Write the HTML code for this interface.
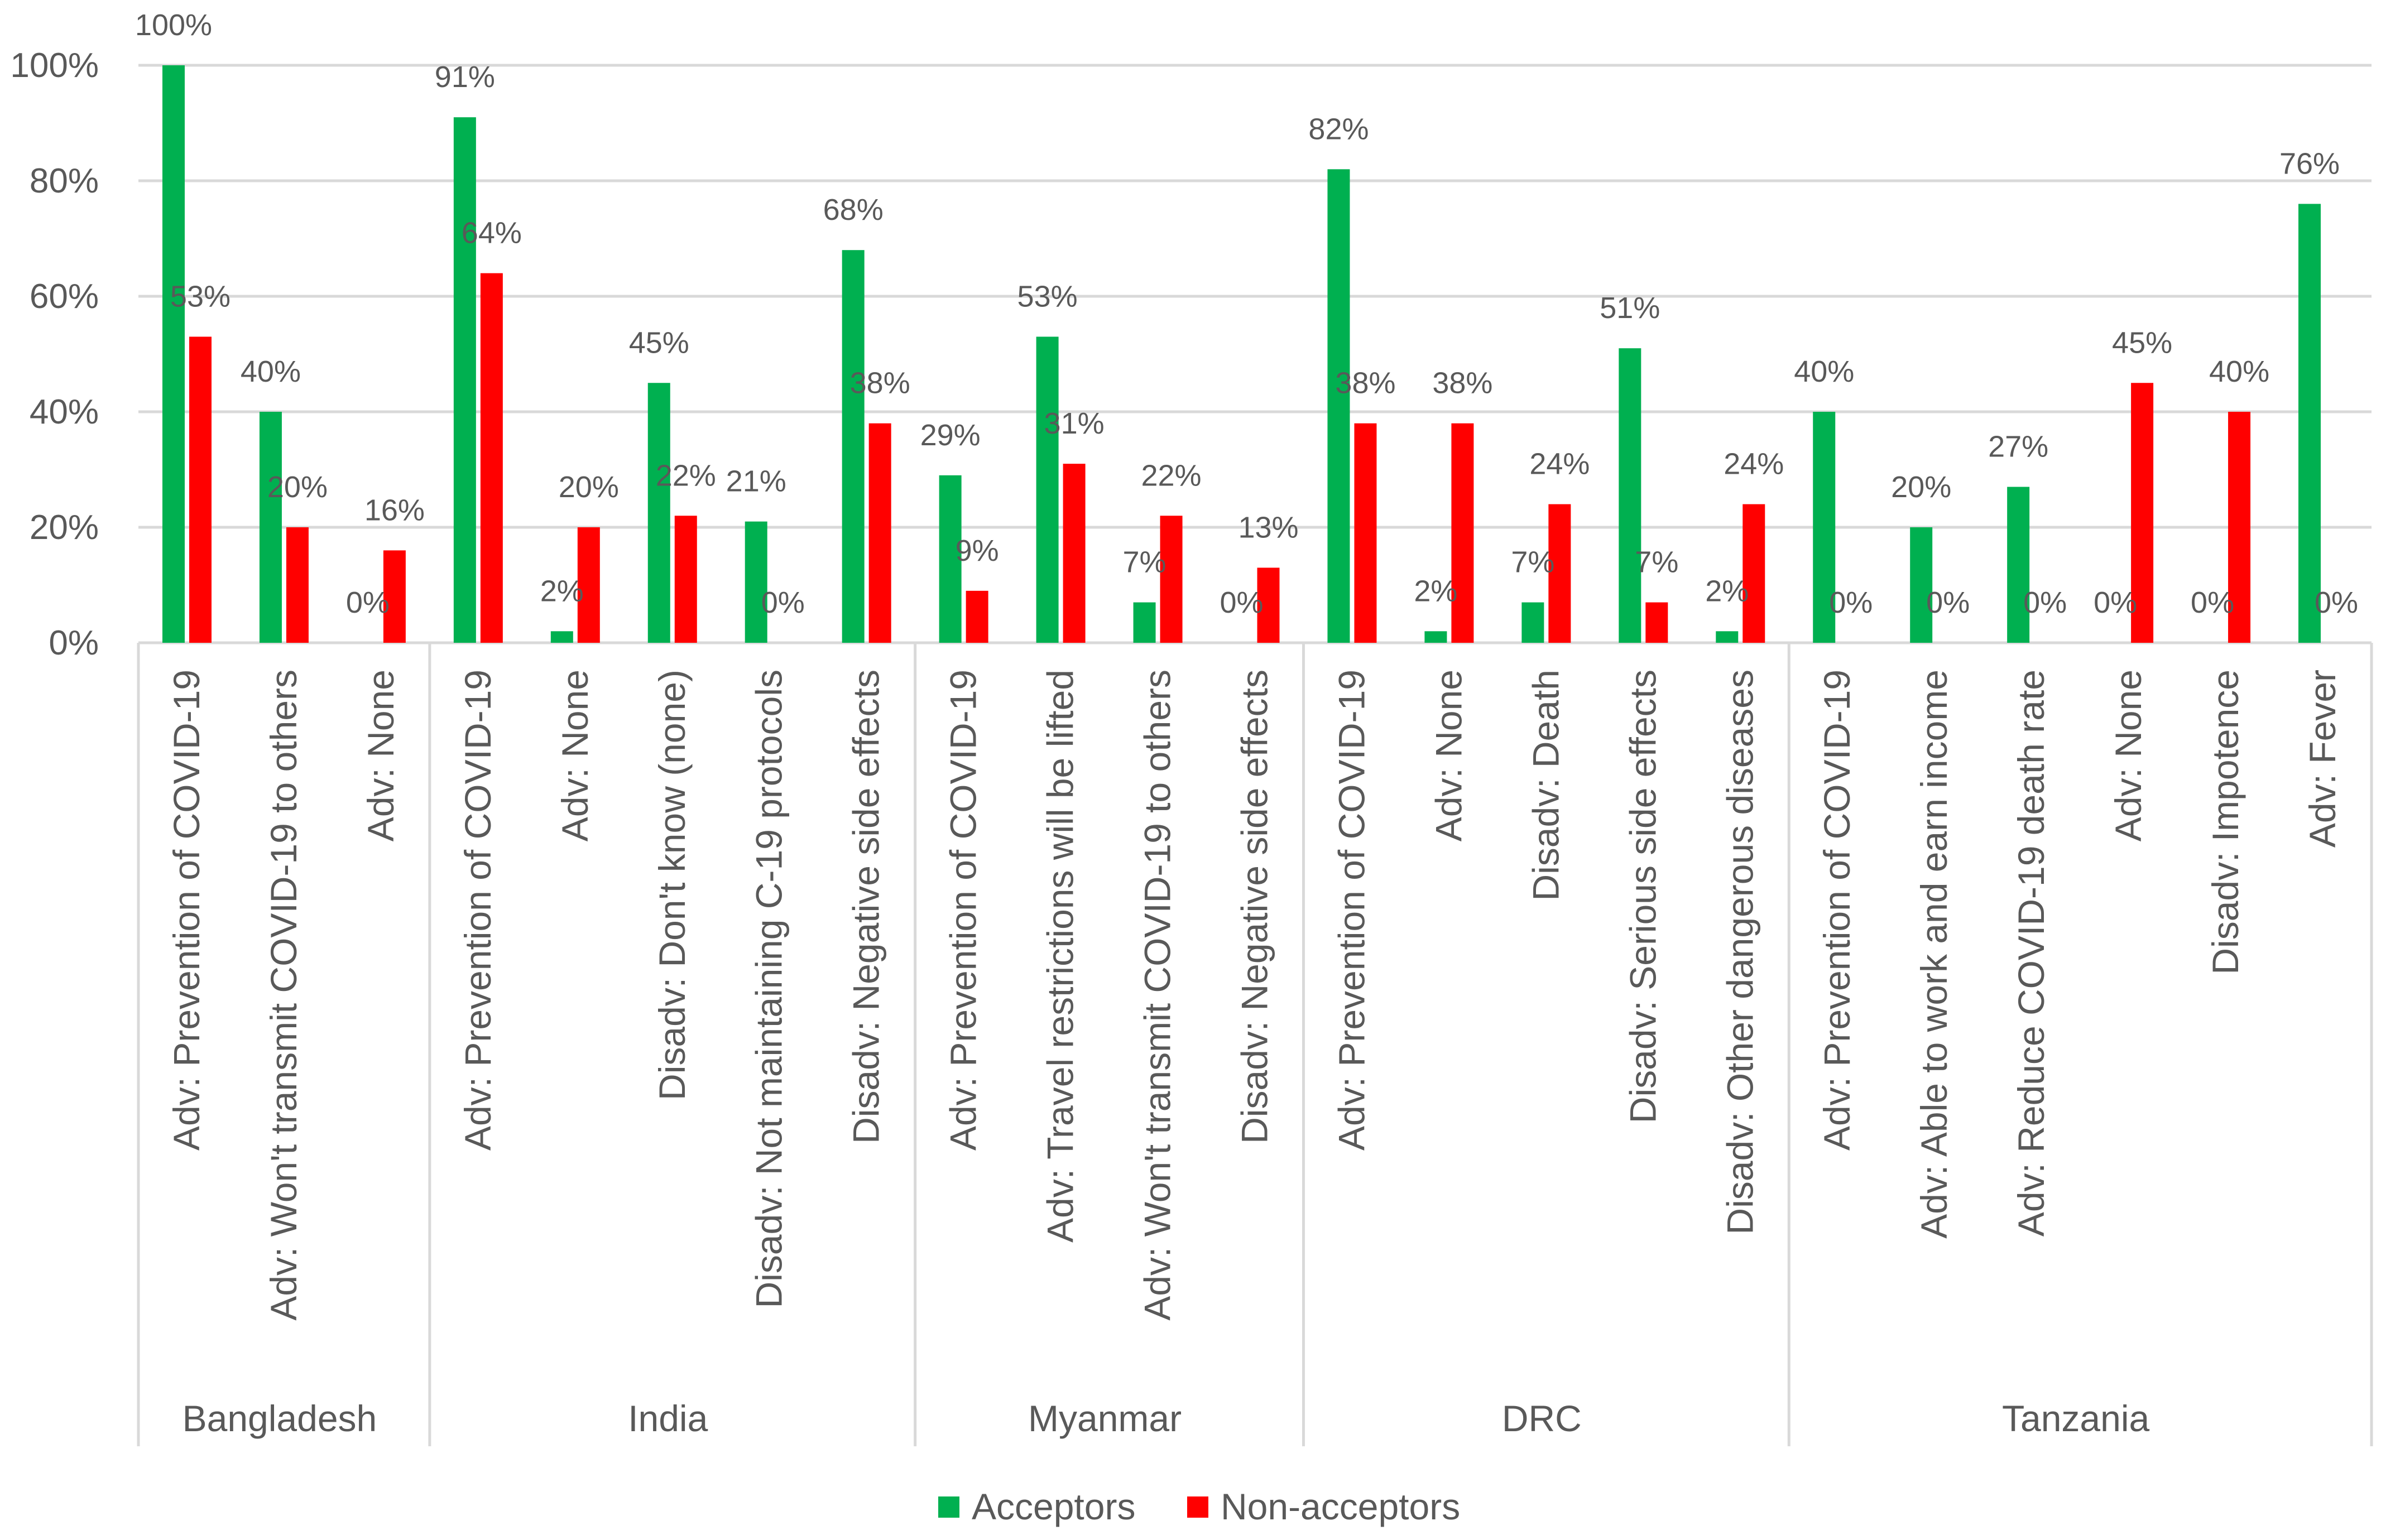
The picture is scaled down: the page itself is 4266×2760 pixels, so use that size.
<!DOCTYPE html>
<html><head><meta charset="utf-8"><style>
html,body{margin:0;padding:0;background:#fff;}
svg{display:block;font-family:"Liberation Sans",sans-serif;}
</style></head><body>
<svg id="chart" width="4266" height="2760" viewBox="0 0 4266 2760" xmlns="http://www.w3.org/2000/svg">
<g id="grid"></g>
<g id="yticks"></g>
<g id="bars"></g>
<g id="labels"></g>
<g id="xcats"></g>
<g id="groups"></g>
<g id="legend">
  <rect x="1681" y="2682" width="38" height="38" fill="#00b050"/>
  <text x="1741" y="2723" font-size="66" fill="#595959">Acceptors</text>
  <rect x="2127" y="2682" width="38" height="38" fill="#ff0000"/>
  <text x="2187" y="2723" font-size="66" fill="#595959">Non-acceptors</text>
</g>
</svg>
<script>
const categories = ["Adv: Prevention of COVID-19","Adv: Won't transmit COVID-19 to others","Adv: None",
"Adv: Prevention of COVID-19","Adv: None","Disadv: Don't know (none)","Disadv: Not maintaining C-19 protocols","Disadv: Negative side effects",
"Adv: Prevention of COVID-19","Adv: Travel restrictions will be lifted","Adv:  Won't transmit COVID-19 to others","Disadv: Negative side effects",
"Adv: Prevention of COVID-19","Adv:  None","Disadv: Death","Disadv:  Serious side effects","Disadv: Other dangerous diseases",
"Adv: Prevention of COVID-19","Adv: Able to work and earn income","Adv: Reduce COVID-19 death rate","Adv:  None","Disadv: Impotence","Adv: Fever"];
const acceptors = [100,40,0, 91,2,45,21,68, 29,53,7,0, 82,2,7,51,2, 40,20,27,0,0,76];
const nonAcceptors = [53,20,16, 64,20,22,0,38, 9,31,22,13, 38,38,24,7,24, 0,0,0,45,40,0];
const groupNames = ["Bangladesh","India","Myanmar","DRC","Tanzania"];
const groupSizes = [3,5,4,5,6];
const yTicks = [0,20,40,60,80,100];

const NS="http://www.w3.org/2000/svg";
const X0=248, X1=4249, Y0=1152, Y100=117;
const cw=(X1-X0)/categories.length;
const y=v=>Y0-(Y0-Y100)*v/100;
const xc=i=>X0+cw*(i+0.5);
function mk(tag,attrs,parent){const e=document.createElementNS(NS,tag);for(const k in attrs)e.setAttribute(k,attrs[k]);parent.appendChild(e);return e;}
const grid=document.getElementById('grid'),yt=document.getElementById('yticks'),bars=document.getElementById('bars'),
labels=document.getElementById('labels'),xcats=document.getElementById('xcats'),groups=document.getElementById('groups');
yTicks.forEach(t=>{
  const l=mk('line',{x1:X0,x2:X1,y1:y(t),y2:y(t),stroke:'#d9d9d9','stroke-width':5},grid);
  
  
  const tx=mk('text',{x:177,y:y(t)+21,'text-anchor':'end','font-size':62,fill:'#595959'},yt);
  tx.textContent=t+'%';
  
  
});
const BW=40;
categories.forEach((c,i)=>{
  const gx=xc(i)-24, rx=xc(i)+24;
  const g=mk('rect',{x:gx-BW/2,y:y(acceptors[i]),width:BW,height:Y0-y(acceptors[i]),fill:'#00b050'},bars);
  
  
  const r=mk('rect',{x:rx-BW/2,y:y(nonAcceptors[i]),width:BW,height:Y0-y(nonAcceptors[i]),fill:'#ff0000'},bars);
  
  
  const gl=mk('text',{x:gx,y:y(acceptors[i])-54,'text-anchor':'middle','font-size':54,fill:'#595959'},labels);
  gl.textContent=acceptors[i]+'%';
  
  
  const rl=mk('text',{x:rx,y:y(nonAcceptors[i])-54,'text-anchor':'middle','font-size':54,fill:'#595959'},labels);
  rl.textContent=nonAcceptors[i]+'%';
  
  
  const ct=mk('text',{x:0,y:0,transform:`translate(${xc(i)+22},1200) rotate(-90)`,'text-anchor':'end','font-size':66,fill:'#595959'},xcats);
  ct.textContent=c;
  
  
});
let start=0;
const b0=mk('line',{x1:X0,x2:X0,y1:Y0,y2:2592,stroke:'#d9d9d9','stroke-width':5},groups);


groupNames.forEach((n,k)=>{
  const end=start+groupSizes[k];
  const xe=X0+cw*end;
  const d=mk('line',{x1:xe,x2:xe,y1:Y0,y2:2592,stroke:'#d9d9d9','stroke-width':5},groups);
  
  
  const t=mk('text',{x:X0+cw*(start+end)/2-8,y:2565,'text-anchor':'middle','font-size':66,fill:'#595959'},groups);
  t.textContent=n;
  
  
  start=end;
});
</script>
</body></html>
